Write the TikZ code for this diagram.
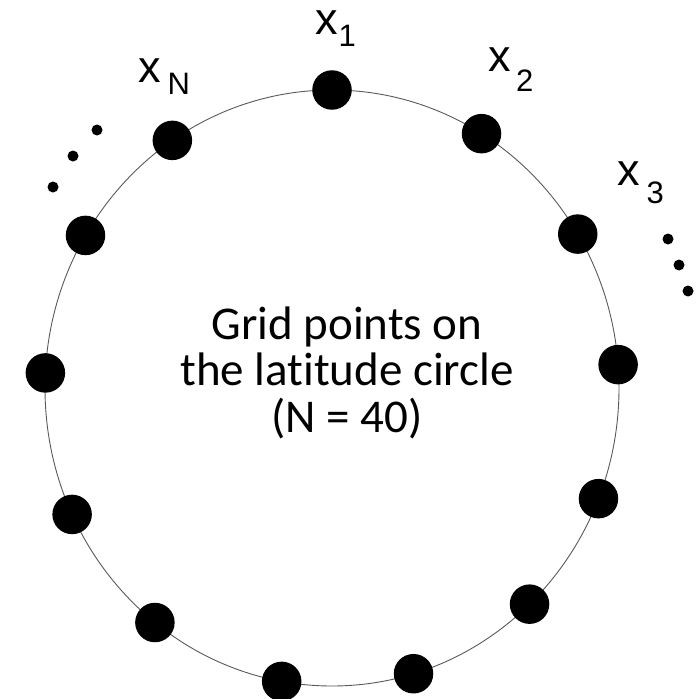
\documentclass[tikz,border=0pt]{standalone}
\usepackage{fontspec}
\setmainfont[Ligatures=NoCommon]{Carlito}
\newfontfamily\lblfont{Liberation Sans}
% x with a lowered index: {index}{gap}{drop}
\newcommand{\xsub}[3]{x\kern#2pt\raisebox{-#3pt}{\fontsize{31}{31}\selectfont #1}}

\begin{document}
\begin{tikzpicture}[
  x=1pt, y=-1pt,
  gridpt/.style={circle, fill=black, inner sep=0pt, minimum size=39.5pt},
  gapdot/.style={circle, fill=black, inner sep=0pt, minimum size=11pt},
  lbl/.style={anchor=base west, inner sep=0pt, font=\lblfont\fontsize{45}{45}\selectfont},
  caption/.style={align=center, inner sep=0pt, font=\fontsize{47}{46.5}\selectfont},
  circ/.style={draw=black!65, line width=0.9pt}
]
  \useasboundingbox (0,0) rectangle (700,698);

  % latitude circle
  \coordinate (c) at (332,388);
  \draw[circ] (c) ellipse [x radius=287pt, y radius=298pt];

  % grid points, by angle on the circle
  \foreach \a [count=\i] in {90,58.6,31.1,4.5,-21.8,-46.5,-73.5,-100.1,-128.1,-154.9,-182.9,-210.8,-236.2}
    \node[gridpt] (p\i) at ({332+287*cos(\a)},{388-298*sin(\a)}) {};

  % the points left out
  \foreach \p [count=\i] in {(97,130),(73,156),(53,187)}
    \node[gapdot] (l\i) at \p {};
  \foreach \p [count=\i] in {(668,239),(679,265),(688,291)}
    \node[gapdot] (r\i) at \p {};

  \node[lbl] (xN) at (138,83) {\xsub{N}{7}{12}};
  \node[lbl] (x1) at (315,35) {\xsub{1}{1}{12}};
  \node[lbl] (x2) at (488,72) {\xsub{2}{5.5}{20}};
  \node[lbl] (x3) at (617,185) {\xsub{3}{7}{18}};

  % last line sits on the anchor
  \node[caption, anchor=base] (txt) at (347,432) {Grid points on\\the latitude circle\\(N = 40)};
\end{tikzpicture}
\end{document}
